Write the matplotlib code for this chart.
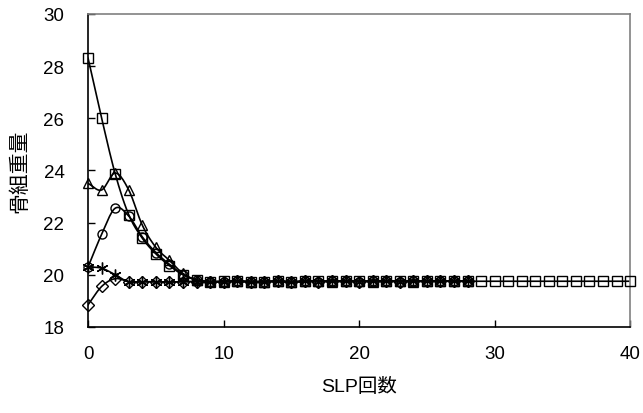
import numpy as np
import matplotlib
matplotlib.use('Agg')
import matplotlib.pyplot as plt

# SLP iteration vs. frame weight for five starting designs
iters_long = list(range(0, 41))
iters_short = list(range(0, 29))

w_square = [28.3, 26.0, 23.87, 22.3, 21.4, 20.8, 20.35, 20.0, 19.8, 19.72,
            19.75, 19.75, 19.74, 19.72, 19.75, 19.73, 19.75, 19.76, 19.75, 19.75,
            19.76, 19.75, 19.75, 19.76, 19.75, 19.75, 19.76, 19.75, 19.75, 19.75,
            19.75, 19.75, 19.75, 19.75, 19.75, 19.75, 19.75, 19.75, 19.75, 19.75,
            19.75]
w_triangle = [23.5, 23.25, 23.9, 23.25, 21.9, 21.05, 20.55, 20.05, 19.8, 19.75,
              19.74, 19.75, 19.73, 19.74, 19.75, 19.73, 19.75, 19.75, 19.74, 19.75,
              19.75, 19.74, 19.75, 19.75, 19.74, 19.75, 19.75, 19.75, 19.75]
w_circle = [20.3, 21.55, 22.55, 22.25, 21.45, 20.85, 20.4, 20.0, 19.8, 19.73,
            19.74, 19.75, 19.73, 19.74, 19.75, 19.72, 19.75, 19.74, 19.75, 19.75,
            19.74, 19.75, 19.75, 19.74, 19.75, 19.75, 19.75, 19.75, 19.75]
w_star = [20.3, 20.25, 20.0, 19.72, 19.73, 19.73, 19.72, 19.73, 19.74, 19.73,
          19.74, 19.75, 19.73, 19.74, 19.75, 19.73, 19.75, 19.74, 19.75, 19.75,
          19.74, 19.75, 19.75, 19.74, 19.75, 19.75, 19.75, 19.75, 19.76]
w_diamond = [18.85, 19.55, 19.85, 19.74, 19.73, 19.73, 19.72, 19.73, 19.74, 19.72,
             19.74, 19.75, 19.73, 19.74, 19.75, 19.72, 19.75, 19.74, 19.75, 19.75,
             19.74, 19.75, 19.75, 19.74, 19.75, 19.75, 19.75, 19.75, 19.75]

x_ticks = [0, 10, 20, 30, 40]
y_ticks = [18, 20, 22, 24, 26, 28, 30]


def smooth(x, y, n=12):
    """Catmull-Rom curve through the points (Excel-style smoothed line)."""
    x = np.asarray(x, float)
    y = np.asarray(y, float)
    px = np.concatenate([[2 * x[0] - x[1]], x, [2 * x[-1] - x[-2]]])
    py = np.concatenate([[2 * y[0] - y[1]], y, [2 * y[-1] - y[-2]]])
    t = np.linspace(0, 1, n, endpoint=False)
    xs, ys = [], []
    for i in range(1, len(px) - 2):
        for p, out in ((px, xs), (py, ys)):
            p0, p1, p2, p3 = p[i - 1], p[i], p[i + 1], p[i + 2]
            out.extend(0.5 * (2 * p1 + (-p0 + p2) * t
                              + (2 * p0 - 5 * p1 + 4 * p2 - p3) * t ** 2
                              + (-p0 + 3 * p1 - 3 * p2 + p3) * t ** 3))
    xs.append(x[-1])
    ys.append(y[-1])
    return xs, ys


plt.rcParams['font.family'] = ['Liberation Sans', 'Noto Sans CJK JP']

fig = plt.figure(figsize=(6.43, 4.14), dpi=100)
ax = fig.add_axes([0.137, 0.208, 0.843, 0.756])

series = [
    (iters_short, w_diamond, 'D', 6.0),
    (iters_short, w_star, (6, 2, 0), 8.5),
    (iters_short, w_circle, 'o', 6.5),
    (iters_short, w_triangle, '^', 7.5),
    (iters_long, w_square, 's', 6.5),
]
for xs, ys, mk, ms in series:
    sx, sy = smooth(xs, ys)
    ax.plot(sx, sy, color='black', lw=1.2, zorder=2)
    ax.plot(xs, ys, ls='none', marker=mk, ms=ms, mfc='none', mec='black',
            mew=1.0, zorder=3, clip_on=False)

ax.set_xlim(0, 40)
ax.set_ylim(18, 30)
ax.set_xticks(x_ticks)
ax.set_yticks(y_ticks)
ax.tick_params(direction='in', length=5, width=1, labelsize=13.5, pad=17,
               colors='black')
ax.tick_params(axis='x', pad=13)

for side in ('left', 'bottom'):
    ax.spines[side].set_color('black')
    ax.spines[side].set_linewidth(1.2)
for side in ('top', 'right'):
    ax.spines[side].set_color('#808080')
    ax.spines[side].set_linewidth(1.2)

ax.set_xlabel('SLP回数', fontsize=14)
ax.set_ylabel('骨組重量', fontsize=15)
ax.xaxis.set_label_coords(0.5, -0.16)
ax.yaxis.set_label_coords(-0.108, 0.5)

fig.savefig('out.png', dpi=100)
